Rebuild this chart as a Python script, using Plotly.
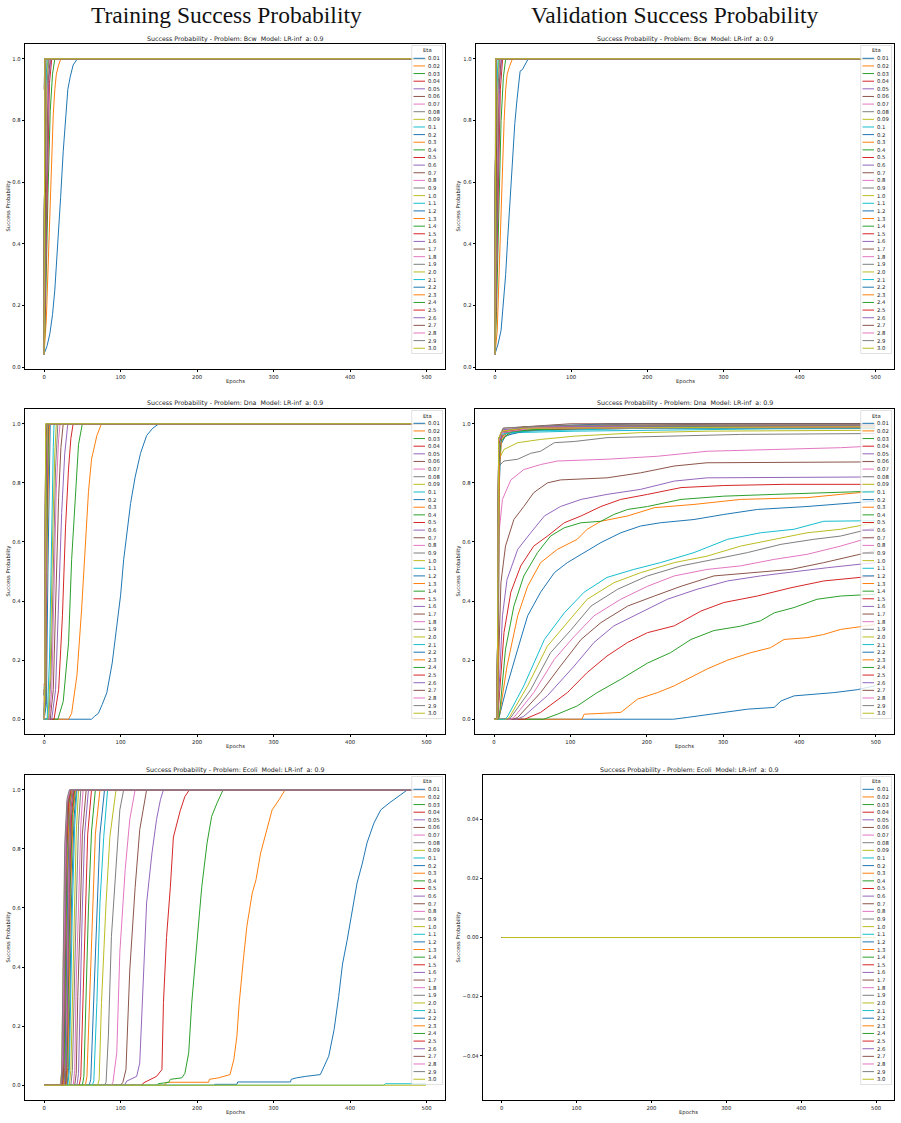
import plotly.graph_objects as go

W, H = 901, 1123

COLORS = ['#1f77b4', '#ff7f0e', '#2ca02c', '#d62728', '#9467bd',
          '#8c564b', '#e377c2', '#7f7f7f', '#bcbd22', '#17becf']

ETAS = ["0.01", "0.02", "0.03", "0.04", "0.05", "0.06", "0.07", "0.08", "0.09",
        "0.1", "0.2", "0.3", "0.4", "0.5", "0.6", "0.7", "0.8", "0.9",
        "1.0", "1.1", "1.2", "1.3", "1.4", "1.5", "1.6", "1.7", "1.8", "1.9",
        "2.0", "2.1", "2.2", "2.3", "2.4", "2.5", "2.6", "2.7", "2.8", "2.9", "3.0"]

X_TICKS = [0, 100, 200, 300, 400, 500]
Y_TICKS_UNIT = [0.0, 0.2, 0.4, 0.6, 0.8, 1.0]
Y_TICKS_ZERO = [-0.04, -0.02, 0.0, 0.02, 0.04]
LAST_EPOCH = 499

PROBLEMS = ["Bcw", "Bcw", "Dna", "Dna", "Ecoli", "Ecoli"]
MAIN_TITLES = ["Training Success Probability", "Validation Success Probability"]

# ---------- series: [epoch, success probability] points ----------
BCW_TRAIN = [
    [[0, .043], [4, .07], [7.5, .108], [11, .17], [14, .25], [16, .32], [18.5, .41], [21.6, .55], [25, .70], [29.5, .84], [31, .9], [34, .94], [38, .98], [43.6, 1.0], [499, 1.0]],
    [[0, .042], [3, .16], [6, .38], [9, .62], [12, .82], [14, .9], [16, .95], [19, .98], [22, 1.0], [499, 1.0]],
    [[0, .042], [2, .2], [5, .55], [8, .83], [11, .95], [14, 1.0], [499, 1.0]],
    [[0, .042], [2, .3], [4, .65], [7, .92], [10, 1.0], [499, 1.0]],
    [[0, .042], [2, .38], [4, .75], [6, .93], [9, 1.0], [499, 1.0]],
    [[0, .042], [1, .25], [3, .7], [5, .92], [8, 1.0], [499, 1.0]],
    [[0, .042], [1, .3], [3, .78], [5, .96], [7, 1.0], [499, 1.0]],
    [[0, .042], [1, .4], [3, .88], [6, 1.0], [499, 1.0]],
    [[0, .042], [1, .5], [3, .93], [5, 1.0], [499, 1.0]],
    [[0, .042], [1, .6], [2, .9], [4, 1.0], [499, 1.0]],
    [[0, .045], [1, .88], [2, 1.0], [499, 1.0]],
    [[0, .05], [1, .95], [2, 1.0], [499, 1.0]],
    [[0, .06], [1, .97], [2, 1.0], [499, 1.0]],
    [[0, .05], [1, .98], [2, 1.0], [499, 1.0]],
    [[0, .08], [1, 1.0], [499, 1.0]],
    [[0, .045], [1, 1.0], [499, 1.0]],
    [[0, .1], [1, 1.0], [499, 1.0]],
    [[0, .043], [1, 1.0], [499, 1.0]],
    [[0, .042], [1, 1.0], [499, 1.0]],
    [[0, .07], [1, 1.0], [499, 1.0]],
    [[0, .042], [1, 1.0], [499, 1.0]],
    [[0, .05], [1, 1.0], [499, 1.0]],
    [[0, .042], [1, 1.0], [499, 1.0]],
    [[0, .043], [1, 1.0], [499, 1.0]],
    [[0, .042], [1, 1.0], [499, 1.0]],
    [[0, .045], [1, 1.0], [499, 1.0]],
    [[0, .042], [1, 1.0], [499, 1.0]],
    [[0, .9], [1, 1.0], [499, 1.0]],
    [[0, .042], [1, 1.0], [499, 1.0]],
    [[0, .05], [1, 1.0], [499, 1.0]],
    [[0, .042], [1, 1.0], [499, 1.0]],
    [[0, .043], [1, 1.0], [499, 1.0]],
    [[0, .042], [1, 1.0], [499, 1.0]],
    [[0, .044], [1, 1.0], [499, 1.0]],
    [[0, .042], [1, 1.0], [499, 1.0]],
    [[0, .043], [1, 1.0], [499, 1.0]],
    [[0, .042], [1, 1.0], [499, 1.0]],
    [[0, .045], [1, 1.0], [499, 1.0]],
    [[0, .042], [1, 1.0], [499, 1.0]],
]

BCW_VAL = [
    [[0, .043], [4, .075], [8, .12], [11, .2], [14, .30], [16.5, .41], [19, .52], [21, .61], [23, .70], [26, .79], [29, .87], [31, .92], [33, .96], [36, .965], [40, .985], [43, .997], [47, 1.0], [499, 1.0]],
    [[0, .042], [3, .12], [6, .35], [9, .6], [12, .8], [14, .9], [16, .95], [19, .975], [23, 1.0], [499, 1.0]],
    [[0, .042], [2, .18], [5, .5], [8, .8], [11, .94], [14, 1.0], [499, 1.0]],
    [[0, .042], [2, .28], [4, .6], [7, .9], [10, 1.0], [499, 1.0]],
    [[0, .042], [2, .35], [4, .72], [6, .92], [9, 1.0], [499, 1.0]],
    [[0, .042], [1, .22], [3, .68], [5, .9], [8, 1.0], [499, 1.0]],
    [[0, .042], [1, .28], [3, .75], [5, .95], [7, 1.0], [499, 1.0]],
    [[0, .042], [1, .38], [3, .86], [6, 1.0], [499, 1.0]],
    [[0, .042], [1, .48], [3, .92], [5, 1.0], [499, 1.0]],
    [[0, .042], [1, .58], [2, .88], [4, 1.0], [499, 1.0]],
    [[0, .045], [1, .86], [2, 1.0], [499, 1.0]],
    [[0, .05], [1, .94], [2, 1.0], [499, 1.0]],
    [[0, .06], [1, .97], [2, 1.0], [499, 1.0]],
    [[0, .05], [1, .98], [2, 1.0], [499, 1.0]],
    [[0, .08], [1, 1.0], [499, 1.0]],
    [[0, .045], [1, 1.0], [499, 1.0]],
    [[0, .1], [1, 1.0], [499, 1.0]],
    [[0, .043], [1, 1.0], [499, 1.0]],
    [[0, .042], [1, 1.0], [499, 1.0]],
    [[0, .07], [1, 1.0], [499, 1.0]],
    [[0, .042], [1, 1.0], [499, 1.0]],
    [[0, .05], [1, 1.0], [499, 1.0]],
    [[0, .042], [1, 1.0], [499, 1.0]],
    [[0, .043], [1, 1.0], [499, 1.0]],
    [[0, .042], [1, 1.0], [499, 1.0]],
    [[0, .045], [1, 1.0], [499, 1.0]],
    [[0, .042], [1, 1.0], [499, 1.0]],
    [[0, .5], [1, 1.0], [499, 1.0]],
    [[0, .042], [1, 1.0], [499, 1.0]],
    [[0, .05], [1, 1.0], [499, 1.0]],
    [[0, .042], [1, 1.0], [499, 1.0]],
    [[0, .043], [1, 1.0], [499, 1.0]],
    [[0, .042], [1, 1.0], [499, 1.0]],
    [[0, .044], [1, 1.0], [499, 1.0]],
    [[0, .042], [1, 1.0], [499, 1.0]],
    [[0, .043], [1, 1.0], [499, 1.0]],
    [[0, .042], [1, 1.0], [499, 1.0]],
    [[0, .045], [1, 1.0], [499, 1.0]],
    [[0, .042], [1, 1.0], [499, 1.0]],
]

DNA_TRAIN = [
    [[0, 0], [62, 0], [66, .01], [71, .02], [76, .05], [82, .09], [89, .19], [95, .32], [100, .42], [104, .54], [108, .62], [113, .73], [119, .82], [126, .90], [134, .96], [142, .985], [150, 1.0], [499, 1.0]],
    [[0, 0], [32, 0], [36, .02], [43, .15], [49, .37], [54, .6], [58, .77], [62, .88], [69, .96], [75, 1.0], [499, 1.0]],
    [[0, 0], [18, 0], [25, .06], [32, .26], [36, .54], [41, .77], [45, .93], [50, 1.0], [499, 1.0]],
    [[0, 0], [13, 0], [19, .1], [24, .35], [28, .65], [32, .85], [35, .95], [38, 1.0], [499, 1.0]],
    [[0, 0], [10, 0], [15, .1], [19, .4], [23, .7], [27, .9], [31, 1.0], [499, 1.0]],
    [[0, 0], [8, 0], [12, .1], [16, .45], [19, .75], [22, .92], [25, 1.0], [499, 1.0]],
    [[0, 0], [7, 0], [10, .1], [13, .45], [16, .78], [19, .95], [21, 1.0], [499, 1.0]],
    [[0, 0], [6, 0], [9, .15], [12, .55], [15, .85], [18, 1.0], [499, 1.0]],
    [[0, 0], [5, 0], [8, .15], [11, .6], [14, .9], [16, 1.0], [499, 1.0]],
    [[0, 0], [4, 0], [7, .2], [10, .7], [12, .92], [13, 1.0], [499, 1.0]],
    [[0, 0], [3, .05], [5, .5], [7, .95], [8, 1.0], [499, 1.0]],
    [[0, .03], [2, .05], [4, .6], [6, .97], [7, 1.0], [499, 1.0]],
    [[0, 0], [2, .08], [4, .7], [6, 1.0], [499, 1.0]],
    [[0, .05], [2, .1], [3, .6], [5, 1.0], [499, 1.0]],
    [[0, 0], [1, .06], [3, .7], [5, 1.0], [499, 1.0]],
    [[0, .1], [1, .05], [3, .8], [4, 1.0], [499, 1.0]],
    [[0, 0], [2, .12], [3, .75], [4, 1.0], [499, 1.0]],
    [[0, .04], [1, .08], [3, .85], [4, 1.0], [499, 1.0]],
    [[0, 0], [1, .1], [2, .6], [4, 1.0], [499, 1.0]],
    [[0, .08], [1, .12], [2, .7], [3, 1.0], [499, 1.0]],
    [[0, 0], [1, .05], [2, .75], [3, 1.0], [499, 1.0]],
    [[0, .1], [1, .06], [2, .8], [3, 1.0], [499, 1.0]],
    [[0, 0], [1, .1], [2, .85], [3, 1.0], [499, 1.0]],
    [[0, .12], [1, .09], [2, .8], [3, 1.0], [499, 1.0]],
    [[0, 0], [1, .08], [2, .9], [3, 1.0], [499, 1.0]],
    [[0, .06], [1, .1], [2, .85], [3, 1.0], [499, 1.0]],
    [[0, 0], [1, .12], [2, .9], [3, 1.0], [499, 1.0]],
    [[0, .09], [1, .07], [2, .92], [3, 1.0], [499, 1.0]],
    [[0, 0], [1, .1], [2, .95], [3, 1.0], [499, 1.0]],
    [[0, .11], [1, .08], [2, .9], [3, 1.0], [499, 1.0]],
    [[0, 0], [1, .12], [2, .95], [3, 1.0], [499, 1.0]],
    [[0, .07], [1, .1], [2, .93], [3, 1.0], [499, 1.0]],
    [[0, 0], [1, .09], [2, .96], [3, 1.0], [499, 1.0]],
    [[0, .1], [1, .11], [2, .95], [3, 1.0], [499, 1.0]],
    [[0, 0], [1, .1], [2, .97], [3, 1.0], [499, 1.0]],
    [[0, .08], [1, .12], [2, .96], [3, 1.0], [499, 1.0]],
    [[0, 0], [1, .11], [2, .98], [3, 1.0], [499, 1.0]],
    [[0, .1], [1, .09], [2, .97], [3, 1.0], [499, 1.0]],
    [[0, 0], [1, .12], [2, 1.0], [499, 1.0]],
]

DNA_VAL = [
    [[0, 0], [235, 0], [253, .006], [292, .02], [332, .034], [367, .04], [376, .062], [393, .079], [423, .085], [445, .09], [476, .10], [499, .113]],
    [[0, 0], [115, 0], [118, .017], [166, .023], [188, .068], [214, .09], [236, .113], [262, .147], [279, .17], [306, .20], [336, .225], [362, .242], [380, .27], [410, .276], [432, .287], [454, .304], [499, .32]],
    [[0, 0], [65, 0], [83, .017], [109, .045], [135, .09], [166, .135], [201, .19], [231, .225], [258, .27], [288, .30], [323, .315], [349, .333], [367, .36], [393, .378], [423, .406], [454, .417], [499, .423]],
    [[0, 0], [40, 0], [61, .023], [96, .09], [122, .158], [148, .214], [175, .26], [201, .293], [236, .316], [271, .366], [301, .395], [345, .417], [389, .445], [432, .468], [499, .485]],
    [[0, 0], [30, 0], [39, .01], [70, .08], [105, .18], [131, .26], [157, .316], [192, .36], [227, .406], [266, .44], [306, .468], [349, .485], [393, .50], [437, .513], [499, .53]],
    [[0, 0], [25, 0], [31, .006], [61, .09], [87, .18], [114, .27], [140, .327], [175, .383], [210, .417], [245, .45], [288, .485], [345, .496], [389, .507], [432, .53], [499, .57]],
    [[0, 0], [22, 0], [26, .006], [52, .09], [79, .203], [105, .28], [131, .35], [166, .406], [201, .45], [236, .485], [279, .507], [323, .519], [367, .541], [410, .558], [454, .586], [499, .62]],
    [[0, 0], [18, 0], [22, .006], [48, .10], [74, .225], [100, .30], [127, .383], [162, .44], [201, .485], [245, .519], [288, .541], [332, .564], [376, .592], [419, .609], [454, .62], [499, .648]],
    [[0, 0], [16, 0], [20, .006], [44, .113], [70, .248], [96, .327], [122, .406], [157, .462], [192, .496], [236, .53], [279, .552], [323, .586], [367, .609], [410, .631], [454, .643], [499, .665]],
    [[0, 0], [14, 0], [17, .006], [39, .113], [66, .27], [92, .36], [118, .43], [148, .48], [183, .507], [218, .53], [262, .564], [306, .609], [349, .631], [393, .643], [432, .67], [499, .672]],
    [[0, 0], [5, 0], [6.5, .006], [17, .113], [31, .237], [44, .35], [61, .43], [79, .496], [96, .53], [118, .564], [140, .598], [166, .631], [192, .654], [218, .665], [262, .676], [301, .693], [345, .71], [410, .72], [499, .738]],
    [[0, 0], [5, 0], [7, .01], [17, .18], [31, .35], [44, .45], [61, .53], [83, .575], [109, .609], [122, .643], [140, .67], [175, .688], [210, .716], [262, .727], [323, .744], [410, .75], [454, .761], [499, .772]],
    [[0, 0], [5, 0], [7, .01], [15, .237], [26, .383], [39, .485], [57, .564], [74, .62], [92, .648], [114, .665], [140, .67], [157, .693], [175, .71], [201, .72], [245, .744], [301, .755], [367, .761], [432, .767], [499, .772]],
    [[0, 0], [4, 0], [5, .01], [13, .293], [22, .43], [35, .519], [52, .586], [70, .62], [92, .665], [114, .688], [140, .72], [166, .744], [201, .761], [245, .784], [301, .791], [380, .795], [499, .795]],
    [[0, 0], [4, 0], [5, .01], [11, .35], [17, .473], [31, .575], [48, .631], [66, .688], [87, .72], [114, .744], [148, .761], [192, .778], [236, .806], [279, .817], [499, .82]],
    [[0, 0], [3, 0], [4, .01], [9, .462], [15, .586], [26, .676], [39, .72], [52, .767], [70, .80], [87, .81], [148, .817], [192, .834], [236, .857], [279, .868], [499, .871]],
    [[0, 0], [3, 0], [4, .01], [6.5, .63], [11, .744], [22, .81], [39, .845], [61, .862], [83, .874], [148, .88], [214, .89], [279, .907], [367, .913], [454, .919], [499, .925]],
    [[0, 0], [3, 0], [4, .01], [6.5, .857], [13, .874], [31, .88], [48, .90], [61, .907], [79, .936], [105, .94], [148, .953], [236, .958], [323, .964], [499, .967]],
    [[0, 0], [3, 0], [4, .01], [6.5, .88], [13, .913], [31, .936], [61, .947], [105, .958], [192, .97], [279, .975], [499, .978]],
    [[0, 0], [3, 0], [4, .01], [6.5, .947], [26, .97], [105, .975], [367, .983], [499, .984]],
    [[0, 0], [5, 0], [7, .8], [9, .93], [15, .96], [40, .975], [100, .985], [250, .99], [499, .99]],
    [[0, 0], [5, 0], [7, .85], [10, .95], [25, .975], [80, .99], [200, .995], [499, .995]],
    [[0, 0], [4, 0], [6, .86], [9, .94], [20, .97], [60, .98], [150, .985], [499, .99]],
    [[0, 0], [4, 0], [6, .88], [8, .95], [20, .975], [70, .98], [200, .985], [499, .985]],
    [[0, 0], [4, 0], [6, .9], [9, .96], [30, .985], [150, .99], [499, .995]],
    [[0, 0], [4, 0], [6, .9], [10, .96], [30, .98], [120, .99], [300, 1.0], [499, 1.0]],
    [[0, 0], [4, 0], [6, .9], [9, .96], [25, .98], [100, .985], [499, .99]],
    [[0, 0], [4, 0], [6, .92], [9, .97], [40, .99], [200, 1.0], [499, 1.0]],
    [[0, 0], [4, 0], [6, .91], [9, .96], [30, .98], [150, .99], [499, .99]],
    [[0, 0], [4, 0], [6, .92], [10, .965], [40, .975], [200, .985], [499, .985]],
    [[0, 0], [4, 0], [6, .93], [10, .97], [50, .99], [150, 1.0], [499, 1.0]],
    [[0, 0], [4, 0], [6, .93], [10, .975], [40, .99], [200, .995], [499, .995]],
    [[0, 0], [4, 0], [6, .94], [10, .97], [50, .98], [200, .99], [499, .99]],
    [[0, 0], [4, 0], [6, .93], [10, .97], [40, .985], [499, .99]],
    [[0, 0], [4, 0], [6, .94], [12, .98], [60, .99], [499, .995]],
    [[0, 0], [4, 0], [6, .95], [12, .985], [100, 1.0], [499, 1.0]],
    [[0, 0], [4, 0], [6, .94], [10, .97], [50, .985], [499, .99]],
    [[0, 0], [4, 0], [6, .95], [12, .985], [80, .995], [499, .995]],
    [[0, 0], [4, 0], [6, .95], [10, .975], [40, .985], [499, .99]],
]

ECOLI_TRAIN = [
    [[0, 0], [222, 0], [223, .003], [252, .003], [253, .011], [322, .011], [323, .02], [330, .025], [342, .03], [361, .036], [372, .098], [379, .188], [385, .30], [390, .41], [396, .49], [403, .594], [409, .684], [416, .752], [422, .82], [431, .887], [440, .932], [451, .955], [462, .977], [475, 1.0], [499, 1.0]],
    [[0, 0], [158, 0], [160, .01], [215, .01], [216, .02], [228, .025], [243, .036], [248, .087], [252, .166], [255, .278], [260, .414], [265, .538], [272, .65], [277, .696], [283, .786], [291, .865], [298, .932], [307, .966], [315, 1.0], [499, 1.0]],
    [[0, 0], [148, 0], [149, .005], [163, .01], [165, .02], [180, .025], [184, .04], [189, .11], [193, .28], [200, .50], [206, .67], [213, .82], [219, .91], [226, .955], [234, 1.0], [499, 1.0]],
    [[0, 0], [128, 0], [130, .008], [147, .03], [154, .053], [156, .28], [160, .5], [165, .67], [169, .84], [178, .93], [184, .977], [190, 1.0], [499, 1.0]],
    [[0, 0], [105, 0], [108, .014], [121, .03], [125, .075], [130, .39], [134, .617], [141, .786], [147, .9], [152, .966], [156, 1.0], [499, 1.0]],
    [[0, 0], [100, 0], [103, .01], [107, .053], [112, .39], [119, .67], [125, .865], [134, 1.0], [499, 1.0]],
    [[0, 0], [88, 0], [90, .01], [95, .11], [99, .45], [106, .73], [112, .9], [119, 1.0], [499, 1.0]],
    [[0, 0], [79, 0], [81, .01], [84, .166], [88, .504], [95, .786], [99, .932], [104, 1.0], [499, 1.0]],
    [[0, 0], [70, 0], [72, .02], [75, .28], [81, .617], [86, .842], [94, 1.0], [499, 1.0]],
    [[0, 0], [63, 0], [65, .015], [69, .28], [73, .617], [78, .842], [83, 1.0], [499, 1.0]],
    [[0, 0], [59, 0], [61, .02], [65, .3], [69, .6], [73, .85], [79, 1.0], [499, 1.0]],
    [[0, 0], [54, 0], [56, .03], [60, .35], [63, .6], [67, .85], [73, 1.0], [499, 1.0]],
    [[0, 0], [50, 0], [52, .03], [55, .3], [58, .6], [62, .86], [67, 1.0], [499, 1.0]],
    [[0, 0], [46, 0], [48, .03], [51, .3], [54, .55], [57, .85], [62, 1.0], [499, 1.0]],
    [[0, 0], [43, 0], [45, .04], [47, .3], [50, .6], [53, .85], [58, 1.0], [499, 1.0]],
    [[0, 0], [40, 0], [42, .04], [44, .3], [47, .55], [50, .85], [55, 1.0], [499, 1.0]],
    [[0, 0], [38, 0], [40, .05], [42, .35], [45, .6], [48, .88], [51, 1.0], [499, 1.0]],
    [[0, 0], [35, 0], [37, .05], [39, .3], [42, .6], [45, .88], [48, 1.0], [499, 1.0]],
    [[0, 0], [33, 0], [35, .05], [37, .3], [40, .62], [42, .85], [45, 1.0], [499, 1.0]],
    [[0, 0], [31, 0], [33, .05], [35, .35], [37, .6], [40, .88], [43, 1.0], [499, 1.0]],
    [[0, 0], [30, 0], [32, .06], [34, .4], [36, .65], [39, .9], [42, 1.0], [499, 1.0]],
    [[0, 0], [29, 0], [31, .06], [33, .4], [35, .68], [38, .92], [41, 1.0], [499, 1.0]],
    [[0, 0], [28, 0], [30, .06], [32, .4], [34, .66], [37, .92], [40, 1.0], [499, 1.0]],
    [[0, 0], [28, 0], [29, .05], [31, .35], [33, .65], [36, .92], [39, 1.0], [499, 1.0]],
    [[0, 0], [27, 0], [29, .08], [31, .45], [33, .72], [35, .93], [38, 1.0], [499, 1.0]],
    [[0, 0], [27, 0], [28, .05], [30, .4], [32, .7], [35, .94], [38, 1.0], [499, 1.0]],
    [[0, 0], [26, 0], [28, .08], [30, .45], [32, .75], [34, .93], [37, 1.0], [499, 1.0]],
    [[0, 0], [26, 0], [27, .05], [29, .4], [31, .72], [34, .95], [37, 1.0], [499, 1.0]],
    [[0, 0], [21, 0], [23, .05], [25, .4], [27, .75], [30, .95], [36, 1.0], [499, 1.0]],
    [[0, 0], [444, 0], [446, .005], [499, .005]],
    [[0, 0], [25, 0], [27, .06], [29, .45], [31, .75], [33, .94], [36, 1.0], [499, 1.0]],
    [[0, 0], [25, 0], [26, .05], [28, .4], [30, .72], [33, .95], [36, 1.0], [499, 1.0]],
    [[0, 0], [24, 0], [26, .08], [28, .5], [30, .8], [32, .95], [35, 1.0], [499, 1.0]],
    [[0, 0], [24, 0], [25, .05], [27, .45], [29, .78], [32, .96], [35, 1.0], [499, 1.0]],
    [[0, 0], [23, 0], [25, .08], [27, .5], [29, .82], [31, .96], [34, 1.0], [499, 1.0]],
    [[0, 0], [23, 0], [24, .05], [26, .45], [28, .8], [31, .96], [34, 1.0], [499, 1.0]],
    [[0, 0], [22, 0], [24, .08], [26, .5], [28, .83], [30, .96], [34, 1.0], [499, 1.0]],
    [[0, 0], [22, 0], [23, .05], [25, .48], [27, .82], [30, .97], [33, 1.0], [499, 1.0]],
    [[0, 0], [499, 0]],
]

ECOLI_VAL = [[[0, 0.0], [499, 0.0]] for _ in ETAS]

PANEL_DATA = [BCW_TRAIN, BCW_VAL, DNA_TRAIN, DNA_VAL, ECOLI_TRAIN, ECOLI_VAL]

# ---------- layout geometry (pixels) ----------
# axes boxes: (left, right, top, bottom)
BOXES = [
    (25, 445, 44, 369), (476, 894, 44, 369),
    (25, 445, 409, 734), (475, 894, 409, 734),
    (25, 445, 775, 1100), (483, 894, 775, 1100),
]
Y_TITLE_X = [8, 458, 8, 458, 8, 458]

FS = 5.3
TXT = '#1a1a1a'


def px(x):
    return x / W


def py(y):
    return 1 - y / H


fig = go.Figure()
annotations = []
shapes = []

for p, data in enumerate(PANEL_DATA):
    n = p + 1
    xa = 'x' if n == 1 else f'x{n}'
    ya = 'y' if n == 1 else f'y{n}'
    for k, series in enumerate(data):
        fig.add_trace(go.Scatter(
            x=[pt[0] for pt in series], y=[pt[1] for pt in series],
            mode='lines', name=ETAS[k], xaxis=xa, yaxis=ya,
            line=dict(color=COLORS[k % 10], width=1.0),
            showlegend=False, hoverinfo='skip'))

    L, R, T, B = BOXES[p]
    ymin = min(pt[1] for s in data for pt in s)
    ymax = max(pt[1] for s in data for pt in s)
    if ymax == ymin:
        lo, hi = ymin - 0.05, ymax + 0.05
        ticks, fmt = Y_TICKS_ZERO, '.2f'
    else:
        lo, hi = ymin, ymax
        ticks, fmt = Y_TICKS_UNIT, '.1f'
    pad = 0.05 * (hi - lo)
    xpad = 0.05 * LAST_EPOCH

    axis_common = dict(showline=True, mirror=True, linecolor='#000', linewidth=1,
                       ticks='outside', ticklen=2.2, tickwidth=0.7, tickcolor='#000',
                       tickfont=dict(family='DejaVu Sans', size=FS, color=TXT),
                       showgrid=False, zeroline=False, fixedrange=True)
    fig.update_layout(**{
        ('xaxis' if n == 1 else f'xaxis{n}'): dict(
            domain=[px(L), px(R)], anchor=ya, range=[-xpad, LAST_EPOCH + xpad],
            tickvals=X_TICKS, **axis_common),
        ('yaxis' if n == 1 else f'yaxis{n}'): dict(
            domain=[py(B), py(T)], anchor=xa, range=[lo - pad, hi + pad],
            tickvals=ticks, tickformat=fmt, **axis_common),
    })

    # subplot title
    annotations.append(dict(
        text=f"Success Probability - Problem: {PROBLEMS[p]}  Model: LR-inf  a: 0.9",
        x=px((L + R) / 2), y=py(T - 5.5), xref='paper', yref='paper',
        showarrow=False, font=dict(family='DejaVu Sans', size=6.3, color=TXT),
        xanchor='center', yanchor='middle'))
    # axis labels
    annotations.append(dict(text='Epochs', x=px((L + R) / 2), y=py(B + 12.5),
                            xref='paper', yref='paper', showarrow=False,
                            font=dict(family='DejaVu Sans', size=FS, color=TXT),
                            xanchor='center', yanchor='middle'))
    annotations.append(dict(text='Success Probability', x=px(Y_TITLE_X[p]), y=py((T + B) / 2),
                            xref='paper', yref='paper', showarrow=False, textangle=-90,
                            font=dict(family='DejaVu Sans', size=FS, color=TXT),
                            xanchor='center', yanchor='middle'))

    # legend (drawn inside the axes, upper right)
    bl, br = R - 33.3, R - 2.5
    bt, bb = T + 1.5, T + 309.5
    shapes.append(dict(type='rect', xref='paper', yref='paper',
                       x0=px(bl), x1=px(br), y0=py(bb), y1=py(bt),
                       line=dict(color='#cccccc', width=0.6),
                       fillcolor='rgba(255,255,255,0.8)', layer='above'))
    annotations.append(dict(text='Eta', x=px((bl + br) / 2), y=py(T + 6.5),
                            xref='paper', yref='paper', showarrow=False,
                            font=dict(family='DejaVu Sans', size=FS, color=TXT),
                            xanchor='center', yanchor='middle'))
    for k, lab in enumerate(ETAS):
        yy = T + 14.3 + k * 7.63
        shapes.append(dict(type='line', xref='paper', yref='paper',
                           x0=px(bl + 1.8), x1=px(bl + 13.3), y0=py(yy), y1=py(yy),
                           line=dict(color=COLORS[k % 10], width=1.0), layer='above'))
        annotations.append(dict(text=lab, x=px(bl + 15.6), y=py(yy),
                                xref='paper', yref='paper', showarrow=False,
                                font=dict(family='DejaVu Sans', size=FS, color=TXT),
                                xanchor='left', yanchor='middle', borderpad=0))

for c, title in enumerate(MAIN_TITLES):
    annotations.append(dict(text=title, x=px(226 if c == 0 else 674), y=py(15.5),
                            xref='paper', yref='paper', showarrow=False,
                            font=dict(family='Liberation Serif', size=23.5, color='#111'),
                            xanchor='center', yanchor='middle'))

fig.update_layout(width=W, height=H, margin=dict(l=0, r=0, t=0, b=0),
                  paper_bgcolor='white', plot_bgcolor='white', showlegend=False,
                  annotations=annotations, shapes=shapes)

fig.write_html("out.html")
